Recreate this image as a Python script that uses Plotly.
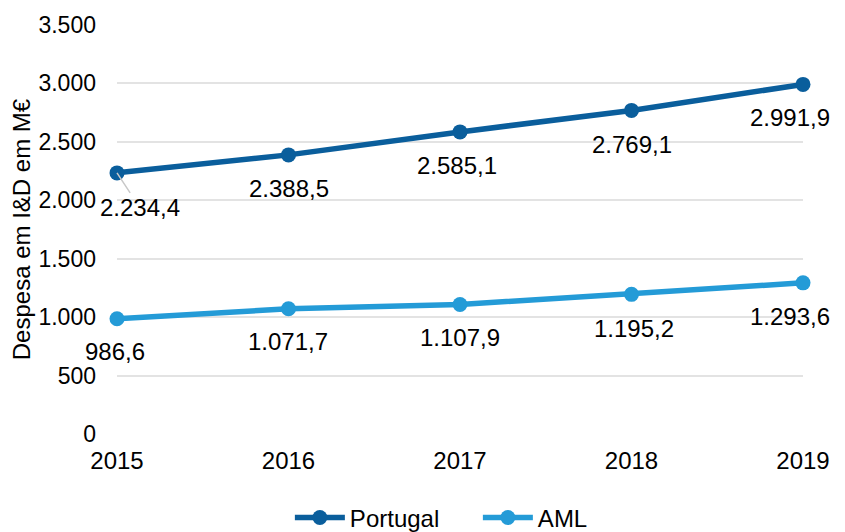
import plotly.graph_objects as go

# dados
anos = [2015, 2016, 2017, 2018, 2019]
portugal = [2234.4, 2388.5, 2585.1, 2769.1, 2991.9]
aml = [986.6, 1071.7, 1107.9, 1195.2, 1293.6]
y_ticks = [0, 500, 1000, 1500, 2000, 2500, 3000, 3500]
y_tick_labels = ["0", "500", "1.000", "1.500", "2.000", "2.500", "3.000", "3.500"]

cor_pt = "#0a5e9c"
cor_aml = "#249bd7"
fonte = "Liberation Sans, Arial, sans-serif"
tam = 24


def fmt(v):
    # formato portugues: 2.234,4
    s = f"{v:,.1f}"
    return s.replace(",", "X").replace(".", ",").replace("X", ".")


fig = go.Figure()
fig.add_trace(go.Scatter(
    x=anos, y=portugal, name="Portugal", mode="lines+markers",
    line=dict(color=cor_pt, width=5.5), marker=dict(size=15, color=cor_pt),
    cliponaxis=False,
))
fig.add_trace(go.Scatter(
    x=anos, y=aml, name="AML", mode="lines+markers",
    line=dict(color=cor_aml, width=5.5), marker=dict(size=15, color=cor_aml),
    cliponaxis=False,
))

# rotulos de dados (deslocamentos em pixeis)
desl_pt = [(None, None), (0, -34), (-3, -34), (0, -34), (-13, -33)]
desl_aml = [(-2, -33), (-1, -33), (0, -33), (2, -34), (-13, -34)]

anotacoes = []
for i, (a, v) in enumerate(zip(anos, portugal)):
    if i == 0:
        anotacoes.append(dict(
            x=a, y=v, text=fmt(v), showarrow=True, arrowhead=0,
            arrowcolor="#c8c8c8", arrowwidth=1.5, ax=23, ay=35,
            font=dict(size=tam, color="black", family=fonte),
        ))
    else:
        dx, dy = desl_pt[i]
        anotacoes.append(dict(
            x=a, y=v, text=fmt(v), showarrow=False, xshift=dx, yshift=dy,
            font=dict(size=tam, color="black", family=fonte),
        ))
for i, (a, v) in enumerate(zip(anos, aml)):
    dx, dy = desl_aml[i]
    anotacoes.append(dict(
        x=a, y=v, text=fmt(v), showarrow=False, xshift=dx, yshift=dy,
        font=dict(size=tam, color="black", family=fonte),
    ))

# a pagina tem 8px de margem no body, por isso desloca-se tudo
fig.update_layout(
    width=845, height=532,
    margin=dict(l=109, r=50, t=17, b=106, autoexpand=False),
    paper_bgcolor="white", plot_bgcolor="white",
    font=dict(family=fonte, size=tam, color="black"),
    showlegend=True,
    legend=dict(orientation="h", x=0.252, xanchor="left", y=-0.205, yanchor="middle",
                font=dict(size=tam), itemwidth=50, tracegroupgap=0,
                entrywidth=123, entrywidthmode="pixels"),
    annotations=anotacoes,
    xaxis=dict(
        range=[2015, 2019], tickvals=anos, ticktext=[str(a) for a in anos],
        showgrid=False, zeroline=False, showline=False, automargin=False,
        ticks="", ticklabelstandoff=10,
    ),
    yaxis=dict(
        range=[0, 3500], tickvals=y_ticks, ticktext=y_tick_labels,
        showgrid=True, gridcolor="#e3e3e3", gridwidth=1.5, zeroline=False,
        showline=False, ticks="", ticklabelstandoff=20, automargin=False,
        tickfont=dict(size=23),
        title=dict(text="Despesa em I&D em M€", standoff=2, font=dict(size=tam)),
    ),
)

fig.write_html("out.html")
